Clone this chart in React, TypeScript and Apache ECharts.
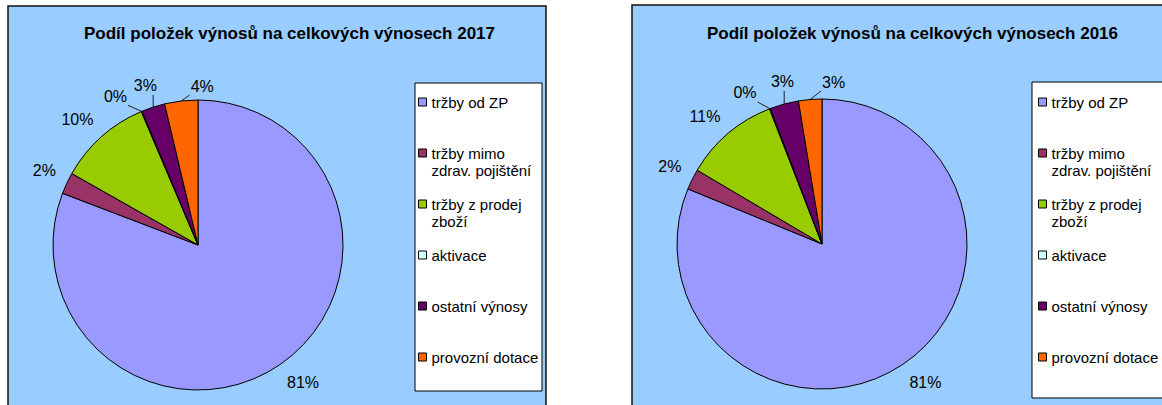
import React, { useEffect, useRef } from "react";
import * as echarts from "echarts";

const categories = [
  "tržby od ZP",
  "tržby mimo zdrav. pojištění",
  "tržby z prodej zboží",
  "aktivace",
  "ostatní výnosy",
  "provozní dotace",
];
const legendLabels = [
  "tržby od ZP",
  "tržby mimo\nzdrav. pojištění",
  "tržby z prodej\nzboží",
  "aktivace",
  "ostatní výnosy",
  "provozní dotace",
];
const values2017 = [80.8, 2.4, 10.4, 0.1, 2.6, 3.7];
const values2016 = [81.2, 2.3, 10.6, 0.1, 3.2, 2.6];
const titles = [
  "Podíl položek výnosů na celkových výnosech 2017",
  "Podíl položek výnosů na celkových výnosech 2016",
];
const colors = ["#9999FF", "#993366", "#99CC00", "#CCFFFF", "#660066", "#FF6600"];

// layout (positions/styles only)
const FONT = "'Liberation Sans', Arial, sans-serif";
const RADIUS = 145;
const LABEL_GAP = 12;
const charts = [
  {
    values: values2017,
    title: titles[0],
    center: [198, 245],
    panel: { x: 8, y: 6, w: 538, h: 420 },
    legendBox: { x: 415, y: 83, w: 127, h: 308 },
    legendLeft: 418,
    titleLeft: 84,
    nudges: [[0, 0], [0, 0], [0, 0], [-10, 4], [7.5, -1.7], [34, 5]],
  },
  {
    values: values2016,
    title: titles[1],
    center: [822, 244],
    panel: { x: 632, y: 5, w: 560, h: 420 },
    legendBox: { x: 1032, y: 82, w: 160, h: 316 },
    legendLeft: 1038,
    titleLeft: 707,
    nudges: [[0, 0], [0, 0], [0, 0], [-9, 3.5], [13, -2.5], [36, 2.5]],
  },
];
const leader = [false, false, false, true, true, true];

const clamp = (v: number, a: number, b: number) => Math.max(a, Math.min(b, v));

export default function App() {
  const ref = useRef<HTMLDivElement>(null);
  useEffect(() => {
    if (!ref.current) return;
    const chart = echarts.init(ref.current, undefined, { renderer: "svg" });

    const graphic: any[] = [];
    charts.forEach((c) => {
      graphic.push({
        type: "rect",
        shape: { x: c.panel.x, y: c.panel.y, width: c.panel.w, height: c.panel.h },
        style: { fill: "#99CCFF", stroke: "#111", lineWidth: 1.5 },
        z: 0,
      });
      graphic.push({
        type: "rect",
        shape: { x: c.legendBox.x, y: c.legendBox.y, width: c.legendBox.w, height: c.legendBox.h },
        style: { fill: "#FFFFFF", stroke: "#000", lineWidth: 1 },
        z: 1,
      });
    });

    const series = charts.map((c) => {
      const vals = c.values;
      const total = vals.reduce((a, b) => a + b, 0);
      return {
        type: "pie",
        radius: RADIUS,
        center: c.center,
        startAngle: 90,
        clockwise: true,
        avoidLabelOverlap: false,
        silent: true,
        itemStyle: { borderColor: "#000", borderWidth: 1 },
        label: {
          show: true,
          position: "outside",
          fontSize: 16,
          fontFamily: FONT,
          color: "#000",
          formatter: (p: any) => Math.round((p.value / total) * 100) + "%",
        },
        labelLine: { show: false, lineStyle: { color: "#222", width: 1 } },
        labelLayout: (p: any) => {
          const i = p.dataIndex;
          let cum = 0;
          for (let k = 0; k < i; k++) cum += vals[k];
          const mid = ((cum + vals[i] / 2) / total) * Math.PI * 2;
          const sx = Math.sin(mid);
          const sy = -Math.cos(mid);
          const w = p.labelRect.width;
          const h = p.labelRect.height;
          const R = RADIUS + LABEL_GAP;
          const lx = c.center[0] + R * sx + (w / 2) * Math.sign(sx) + c.nudges[i][0];
          const ly = c.center[1] + R * sy + (h / 2) * Math.sign(sy) + c.nudges[i][1];
          const res: any = { x: lx, y: ly, align: "center", verticalAlign: "middle" };
          if (leader[i]) {
            const ax = c.center[0] + RADIUS * sx;
            const ay = c.center[1] + RADIUS * sy;
            const px = clamp(ax, lx - w / 2 - 1, lx + w / 2 + 1);
            const py = clamp(ay, ly - h / 2 - 1, ly + h / 2 + 1);
            res.labelLinePoints = [
              [ax, ay],
              [ax, ay],
              [px, py],
            ];
          }
          return res;
        },
        data: categories.map((name, i) => ({
          name,
          value: vals[i],
          itemStyle: { color: colors[i] },
          labelLine: { show: leader[i] },
        })),
      };
    });

    const option: any = {
      animation: false,
      backgroundColor: "#FFFFFF",
      graphic,
      title: charts.map((c) => ({
        text: c.title,
        left: c.titleLeft,
        top: 25,
        padding: 0,
        textStyle: { fontSize: 17, fontWeight: "bold", color: "#000", fontFamily: FONT },
      })),
      legend: charts.map((c) => ({
        orient: "vertical",
        left: c.legendLeft,
        top: 76.5,
        padding: 0,
        itemGap: 0,
        itemWidth: 8,
        itemHeight: 8,
        icon: "rect",
        selectedMode: false,
        itemStyle: { borderColor: "#000", borderWidth: 1 },
        textStyle: { fontSize: 15, lineHeight: 17, color: "#000", fontFamily: FONT },
        // blank first line keeps the first text line level with the icon
        formatter: (name: string) => {
          const t = legendLabels[categories.indexOf(name)];
          return t.indexOf("\n") >= 0 ? "\n" + t : "\n" + t + "\n";
        },
        data: categories,
      })),
      series,
    };
    chart.setOption(option);
    return () => chart.dispose();
  }, []);
  return (
    <div
      ref={ref}
      style={{ position: "absolute", left: 0, top: 0, width: 1162, height: 405 }}
    />
  );
}
